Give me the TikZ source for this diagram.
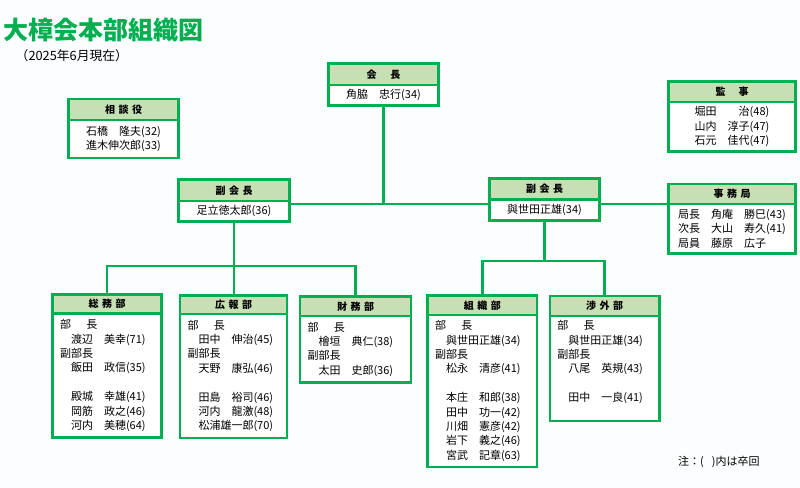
\documentclass[tikz,border=0pt]{standalone}
\usepackage{fontspec}
\setmainfont{Noto Sans CJK JP}
\usetikzlibrary{positioning}
\definecolor{vihrea}{RGB}{0,176,80}
\definecolor{vaaleanvihrea}{RGB}{198,224,180}
\definecolor{tausta}{RGB}{252,253,254}
\newcommand{\vali}{\hspace{0.35em}}

\begin{document}
\begin{tikzpicture}[x=1pt,y=-1pt,
		otsake/.style={draw=vihrea, line width=2.6pt, fill=vaaleanvihrea, anchor=north west,
			outer sep=0pt, inner sep=0pt, font=\fontsize{10}{12}\selectfont\bfseries},
		runko/.style={draw=vihrea, line width=2.6pt, fill=white, outer sep=0pt,
			inner xsep=7.5pt, inner ysep=0pt, font=\fontsize{11}{14.4}\selectfont},
		yhteys/.style={draw=vihrea, line width=2.6pt}]
				\fill[tausta] (0,0) rectangle (800,487);
				\useasboundingbox (0,0) rectangle (800,487);
				\node[anchor=west, inner sep=0pt, text=vihrea, font=\fontsize{25}{25}\selectfont\bfseries] (otsikko) at (3,30) {大樟会本部組織図};
				\node[anchor=west, inner sep=0pt, font=\fontsize{12.8}{13}\selectfont] (pvm) at (15.5,56) {（2025年6月現在）};
				\node[anchor=west, inner sep=0pt, font=\fontsize{11}{12}\selectfont] (huom) at (678,462) {注：(\hspace{8pt})内は卒回};
				% yhteydet
				\coordinate (keskus) at (0,204);
				\coordinate (jako1) at (0,266);
				\coordinate (jako2) at (0,261);
				% ylin taso
				\node[otsake, minimum width=110, minimum height=21.5] (kaichoh) at (328.5,63.5) {会\hspace{1.4em}長};
				\node[runko, minimum width=110, minimum height=20.5, below=0pt of kaichoh] (kaichob) {角脇　忠行(34)};
				\node[otsake, minimum width=110, minimum height=21] (sodanh) at (68.5,99) {相\vali 談\vali 役};
				\node[runko, minimum width=110, minimum height=38, align=left, below=0pt of sodanh] (sodanb) {石橋　隆夫(32)\\進木伸次郎(33)};
				\node[otsake, minimum width=127, minimum height=20.5] (kanjih) at (668.5,81.5) {監\hspace{1.3em}事};
				\node[runko, minimum width=127, minimum height=49.5, align=left, below=0pt of kanjih] (kanjib) {堀田　　治(48)\\山内　淳子(47)\\石元　佳代(47)};
				\node[otsake, minimum width=127, minimum height=20] (jimuh) at (668.5,184) {事\vali 務\vali 局};
				\node[runko, minimum width=127, minimum height=49.5, align=left, below=0pt of jimuh] (jimub) {局長　角庵　勝巳(43)\\次長　大山　寿久(41)\\局員　藤原　広子};
				\node[otsake, minimum width=111, minimum height=21.5] (fuku1h) at (178.5,179.5) {副\vali 会\vali 長};
				\node[runko, minimum width=111, minimum height=20.5, below=0pt of fuku1h] (fuku1b) {足立徳太郎(36)};
				\node[otsake, minimum width=110, minimum height=21] (fuku2h) at (489.5,178.5) {副\vali 会\vali 長};
				\node[runko, minimum width=110, minimum height=21, below=0pt of fuku2h] (fuku2b) {與世田正雄(34)};
				% osastot
				\node[otsake, minimum width=109, minimum height=19] (somuh) at (52.5,294.5) {総\vali 務\vali 部};
				\node[runko, text width=94, minimum height=124, align=left, below=0pt of somuh] (somub) {部\hspace{1.4em}長\\　渡辺　美幸(71)\\副部長\\　飯田　政信(35)\\[14.4pt]　殿城　幸雄(41)\\　岡筋　政之(46)\\　河内　美穂(64)};
				\node[otsake, minimum width=107, minimum height=18.5] (kohoh) at (180,295.5) {広\vali 報\vali 部};
				\node[runko, text width=92, minimum height=124, align=left, below=0pt of kohoh] (kohob) {部\hspace{1.4em}長\\　田中　伸治(45)\\副部長\\　天野　康弘(46)\\[14.4pt]　田島　裕司(46)\\　河内　龍激(48)\\　松浦雄一郎(70)};
				\node[otsake, minimum width=111, minimum height=19.5] (zaimuh) at (300,296.5) {財\vali 務\vali 部};
				\node[runko, text width=96, minimum height=66.5, align=left, below=0pt of zaimuh] (zaimub) {部\hspace{1.4em}長\\　檜垣　典仁(38)\\副部長\\　太田　史郎(36)};
				\node[otsake, minimum width=109.5, minimum height=19.5] (soshikih) at (427.5,295.5) {組\vali 織\vali 部};
				\node[runko, text width=94.5, minimum height=152, align=left, below=0pt of soshikih] (soshikib) {部\hspace{1.4em}長\\　與世田正雄(34)\\副部長\\　松永　清彦(41)\\[14.4pt]　本庄　和郎(38)\\　田中　功一(42)\\　川畑　憲彦(42)\\　岩下　義之(46)\\　宮武　記章(63)};
				\node[otsake, minimum width=109.5, minimum height=20] (shogaih) at (549.8,295.8) {渉\vali 外\vali 部};
				\node[runko, text width=94.5, minimum height=105, align=left, below=0pt of shogaih] (shogaib) {部\hspace{1.4em}長\\　與世田正雄(34)\\副部長\\　八尾　英規(43)\\[14.4pt]　田中　一良(41)\\~};
				% viivat
				\draw[yhteys] (kaichob.south) -- (kaichob.south |- keskus);
				\draw[yhteys] (fuku1b.east |- keskus) -- (fuku2b.west |- keskus);
				\draw[yhteys] (fuku2b.east |- jimub.north) -- (jimub.north west);
				\draw[yhteys] (fuku1b.south) -- (fuku1b.south |- kohoh.north);
				\draw[yhteys] (somuh.north) |- (zaimuh.north |- jako1) -- (zaimuh.north);
				\draw[yhteys] (fuku2b.south) -- (fuku2b.south |- jako2);
				\draw[yhteys] (soshikih.north) |- (shogaih.north |- jako2) -- (shogaih.north);
			\end{tikzpicture}
\end{document}
